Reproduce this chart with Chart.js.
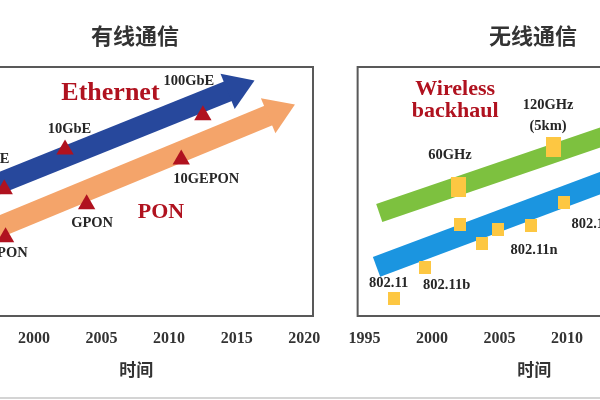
<!DOCTYPE html>
<html>
<head>
<meta charset="utf-8">
<script src="https://cdn.jsdelivr.net/npm/chart.js@4"></script>
<style>
  html, body { margin: 0; padding: 0; background: #fff; }
  #wrap { position: relative; width: 600px; height: 400px; overflow: hidden; background: #fff; }
  .panel { position: absolute; top: 0; }
  #wired { left: -63px; }
  #wireless { left: 335px; }
  #rule { position: absolute; left: 0; right: 0; top: 397px; border-top: 2px solid #d4d4d4; }
</style>
</head>
<body>
<div id="wrap">
  <canvas id="wired" class="panel" width="400" height="400"></canvas>
  <canvas id="wireless" class="panel" width="400" height="400"></canvas>
  <div id="rule"></div>
</div>
<script>
var tickYears = [1995, 2000, 2005, 2010, 2015, 2020];

// 有线通信
var ethernetYears = [1995.5, 2014.4];
var ethernetLevel = [49.1, 90.4];
var ponYears = [1995.5, 2017.4];
var ponLevel = [31.5, 80.6];
var ethNames = ['1GbE', '10GbE', '100GbE'];
var ethYears = [1997.8, 2002.3, 2012.5];
var ethLevel = [50.9, 66.9, 80.6];
var ponNames = ['EPON', 'GPON', '10GEPON'];
var ponNameYears = [1997.9, 2003.9, 2010.9];
var ponNameLevel = [31.6, 44.9, 62.9];

// 无线通信
var backhaulYears = [1996.1, 2020.3];
var backhaulLevel = [41.4, 86.2];
var wifiYears = [1995.9, 2020.2];
var wifiLevel = [19.7, 69.1];
var bandNames = ['60GHz', ['120GHz', '(5km)']];
var bandYears = [2002.0, 2009.0];
var bandLevel = [51.8, 67.9];
var wifiNames = ['802.11', '802.11b', '', '', '', '802.11n', '802.11ac'];
var wifiNameYears = [1997.2, 1999.5, 2002.1, 2003.7, 2004.9, 2007.3, 2009.8];
var wifiNameLevel = [7.0, 19.5, 36.7, 29.1, 34.7, 36.5, 45.4];

var serif = '"Liberation Serif", "Times New Roman", serif';
var cjk = '"Noto Sans CJK SC", sans-serif';
var darkRed = '#b0121f';

function pts(xs, ys) {
  return xs.map(function(x, i) { return { x: x, y: ys[i] }; });
}

function block(w, h, color) {
  var c = document.createElement('canvas');
  c.width = w; c.height = h;
  var g = c.getContext('2d');
  g.fillStyle = color;
  g.fillRect(0, 0, w, h);
  return c;
}

// box round the plot area
var frame = {
  id: 'frame',
  afterDraw: function(chart) {
    var a = chart.chartArea, ctx = chart.ctx;
    ctx.save();
    ctx.strokeStyle = '#595959';
    ctx.lineWidth = 2;
    ctx.strokeRect(a.left, a.top, a.right - a.left, a.bottom - a.top);
    ctx.restore();
  }
};

// arrow head at the end of a thick line
var arrowHeads = {
  id: 'arrowHeads',
  afterDatasetDraw: function(chart, args) {
    var ds = chart.data.datasets[args.index];
    if (!ds.arrowHead) return;
    var p = args.meta.data, a = p[p.length - 2], b = p[p.length - 1];
    var dx = b.x - a.x, dy = b.y - a.y, len = Math.sqrt(dx * dx + dy * dy);
    var ux = dx / len, uy = dy / len;
    var L = ds.arrowHead.length, W = ds.arrowHead.width / 2;
    var bx = b.x - ux, by = b.y - uy;
    var ctx = chart.ctx;
    ctx.save();
    ctx.fillStyle = ds.borderColor;
    ctx.beginPath();
    ctx.moveTo(b.x + ux * L, b.y + uy * L);
    ctx.lineTo(bx - uy * W, by + ux * W);
    ctx.lineTo(bx + uy * W, by - ux * W);
    ctx.closePath();
    ctx.fill();
    ctx.restore();
  }
};

// names next to the markers, and the series notes
var pointLabels = {
  id: 'pointLabels',
  afterDatasetsDraw: function(chart, args, opts) {
    var ctx = chart.ctx;
    ctx.save();
    ctx.textAlign = 'center';
    ctx.textBaseline = 'middle';
    chart.data.datasets.forEach(function(ds, i) {
      if (!ds.names) return;
      var meta = chart.getDatasetMeta(i);
      ctx.font = 'bold 14.5px ' + serif;
      ctx.fillStyle = '#262626';
      meta.data.forEach(function(el, j) {
        if (!ds.names[j]) return;
        var off = ds.nameOffsets[j];
        [].concat(ds.names[j]).forEach(function(line, k) {
          ctx.fillText(line, el.x + off[0], el.y + off[1] + k * 21.5);
        });
      });
    });
    (opts.notes || []).forEach(function(n) {
      var x = chart.scales.x.getPixelForValue(n.year);
      var y = chart.scales.y.getPixelForValue(n.level);
      ctx.font = 'bold ' + n.size + 'px ' + serif;
      ctx.fillStyle = darkRed;
      [].concat(n.text).forEach(function(line, k) {
        ctx.fillText(line, x, y + k * n.size);
      });
    });
    ctx.restore();
  }
};

function panel(id, title, datasets, notes) {
  return new Chart(document.getElementById(id), {
    type: 'line',
    data: { datasets: datasets },
    options: {
      responsive: false,
      animation: false,
      events: [],
      layout: { padding: { left: 20, right: 24, top: 0, bottom: 0 } },
      plugins: {
        legend: { display: false },
        tooltip: { enabled: false },
        title: {
          display: true,
          text: title,
          color: '#333',
          font: { family: cjk, size: 22, weight: 'bold' },
          padding: { top: 22, bottom: 18.6 }
        },
        pointLabels: { notes: notes }
      },
      scales: {
        x: {
          type: 'linear',
          min: 1994.5,
          max: 2020.65,
          grid: { display: false, drawTicks: false },
          border: { display: false },
          afterBuildTicks: function(s) {
            s.ticks = tickYears.map(function(v) { return { value: v }; });
          },
          afterFit: function(s) { s.height = 84; },
          ticks: {
            padding: 13,
            color: '#333',
            autoSkip: false,
            maxRotation: 0,
            font: { family: serif, size: 16, weight: 'bold' },
            callback: function(v) { return String(v); }
          },
          title: {
            display: true,
            text: '时间',
            color: '#333',
            font: { family: cjk, size: 17, weight: 'bold' },
            padding: { top: 0, bottom: 19.8 }
          }
        },
        y: { display: false, min: 0, max: 100 }
      }
    },
    plugins: [frame, arrowHeads, pointLabels]
  });
}

var triangle = {
  showLine: false,
  pointStyle: 'triangle',
  pointRadius: 10,
  pointBackgroundColor: darkRed,
  pointBorderWidth: 0
};

panel('wired', '有线通信', [
  Object.assign({
    data: pts(ethYears, ethLevel),
    names: ethNames,
    nameOffsets: [[-13, -30.5], [4.5, -20], [-14, -34]]
  }, triangle),
  Object.assign({
    data: pts(ponNameYears, ponNameLevel),
    names: ponNames,
    nameOffsets: [[2, 16], [5.5, 19.5], [25, 19.5]]
  }, triangle),
  {
    data: pts(ethernetYears, ethernetLevel),
    borderColor: '#27489c',
    borderWidth: 21,
    borderCapStyle: 'butt',
    pointRadius: 0,
    arrowHead: { length: 28, width: 38 }
  },
  {
    data: pts(ponYears, ponLevel),
    borderColor: '#f4a46a',
    borderWidth: 21,
    borderCapStyle: 'butt',
    pointRadius: 0,
    arrowHead: { length: 28, width: 38 }
  }
], [
  { text: 'Ethernet', year: 2005.66, level: 89.6, size: 26 },
  { text: 'PON', year: 2009.4, level: 41.8, size: 22 }
]);

panel('wireless', '无线通信', [
  {
    data: pts(bandYears, bandLevel),
    showLine: false,
    pointStyle: block(15, 20, '#fdc742'),
    names: bandNames,
    nameOffsets: [[-9, -32], [-5.5, -42]]
  },
  {
    data: pts(wifiNameYears, wifiNameLevel),
    showLine: false,
    pointStyle: block(12, 13, '#fdc742'),
    names: wifiNames,
    nameOffsets: [[-5.5, -15], [21.5, 18], [0, 0], [0, 0], [0, 0], [3.5, 25.5], [33.5, 21]]
  },
  {
    data: pts(backhaulYears, backhaulLevel),
    borderColor: '#7dc13f',
    borderWidth: 19,
    borderCapStyle: 'butt',
    pointRadius: 0
  },
  {
    data: pts(wifiYears, wifiLevel),
    borderColor: '#1b95e0',
    borderWidth: 21,
    borderCapStyle: 'butt',
    pointRadius: 0
  }
], [
  { text: ['Wireless', 'backhaul'], year: 2001.72, level: 91.2, size: 22 }
]);
</script>
</body>
</html>
